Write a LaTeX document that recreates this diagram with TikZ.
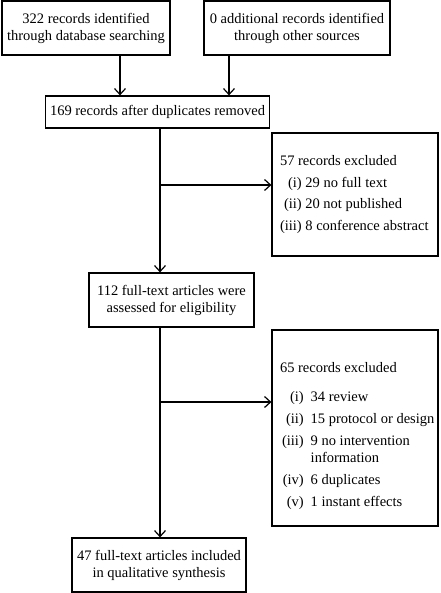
\documentclass[tikz,border=0pt]{standalone}
\usepackage{fontspec}
\setmainfont{Liberation Serif}
\usetikzlibrary{arrows.meta}
\begin{document}
\begin{tikzpicture}[x=1pt,y=1pt,line width=1.2pt]
  % Styles
  \tikzstyle{box}=[draw,inner sep=0pt,align=center,font=\fontsize{14.5}{17}\selectfont]
  \tikzstyle{list}=[anchor=north west,inner sep=0pt,font=\fontsize{14.5}{17}\selectfont]
  \tikzstyle{flow}=[-{Straight Barb[length=6pt,width=11pt]}]

  \useasboundingbox (0,0) rectangle (440,-593);

  % The graphic
  \node[box,minimum width=168,minimum height=54] (db) at (86,-28)
    {322 records identified\\through database searching};
  \node[box,minimum width=186,minimum height=54] (other) at (297,-28)
    {0 additional records identified\\through other sources};
  \node[box,minimum width=224,minimum height=32] (dup) at (157.5,-112)
    {169 records after duplicates removed};
  \node[box,minimum width=166,minimum height=123] (excl1) at (355,-194.5) {};
  \node[list] (excl1txt) at ([xshift=8,yshift=-21]excl1.north west)
    {\begin{tabular}{@{}r@{ }l@{}}
      \multicolumn{2}{@{}l@{}}{57 records excluded}\\[4.5pt]
      (i) & 29 no full text\\[4.5pt]
      (ii) & 20 not published\\[4.5pt]
      (iii) & 8 conference abstract
    \end{tabular}};
  \node[box,minimum width=166,minimum height=196] (excl2) at (355,-428) {};
  \node[list] (excl2txt) at ([xshift=8,yshift=-31]excl2.north west)
    {\begin{tabular}{@{\hspace{2pt}}r@{\hspace{7pt}}l@{}}
      \multicolumn{2}{@{}l@{}}{65 records excluded}\\[12pt]
      (i) & 34 review\\[5pt]
      (ii) & 15 protocol or design\\[5pt]
      (iii) & 9 no intervention\\
      \multicolumn{2}{@{\hspace{2pt}}l@{}}{\hphantom{(iii)}\hspace{7pt}information}\\[5pt]
      (iv) & 6 duplicates\\[5pt]
      (v) & 1 instant effects
    \end{tabular}};
  \node[box,minimum width=165,minimum height=54] (elig) at (171.5,-300)
    {112 full-text articles were\\assessed for eligibility};
  \node[box,minimum width=174,minimum height=54] (incl) at (159,-565)
    {47 full-text articles included\\in qualitative synthesis};

  \coordinate (s1) at (160,-185);
  \coordinate (s2) at (160,-402);

  \draw[flow] ([xshift=34pt]db.south) -- ([xshift=34pt]db.south |- dup.north);
  \draw[flow] ([xshift=-68pt]other.south) -- ([xshift=-68pt]other.south |- dup.north);
  \draw[flow] (s1 |- dup.south) -- (s1 |- elig.north);
  \draw[flow] (s1) -- (s1 -| excl1.west);
  \draw[flow] (s2 |- elig.south) -- (s2 |- incl.north);
  \draw[flow] (s2) -- (s2 -| excl2.west);
\end{tikzpicture}
\end{document}
